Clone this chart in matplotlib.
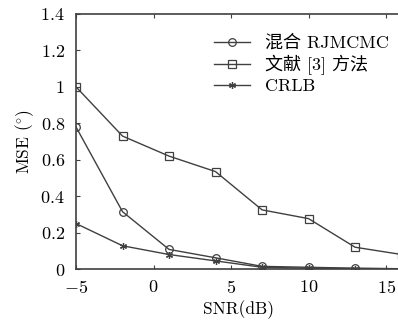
import matplotlib
matplotlib.use('Agg')
import matplotlib.pyplot as plt
from matplotlib.ticker import FuncFormatter

# 数据
snr = [-5, -2, 1, 4, 7, 10, 13, 16]
mse_rjmcmc = [0.78, 0.315, 0.108, 0.062, 0.015, 0.01, 0.005, 0.002]
mse_ref3 = [1.0, 0.73, 0.62, 0.535, 0.325, 0.277, 0.12, 0.08]
mse_crlb = [0.25, 0.128, 0.08, 0.045, 0.01, 0.005, 0.003, 0.002]

labels = ['混合 RJMCMC', '文献 [3] 方法', 'CRLB']
x_ticks = [-5, 0, 5, 10, 15]
y_ticks = [0, 0.2, 0.4, 0.6, 0.8, 1.0, 1.2, 1.4]

plt.rcParams['font.family'] = ['cmr10', 'Noto Sans CJK SC']
plt.rcParams['mathtext.fontset'] = 'cm'
plt.rcParams['axes.unicode_minus'] = False

fig = plt.figure(figsize=(3.98, 3.25), dpi=100)
ax = fig.add_axes([0.191, 0.172, 0.818, 0.785])

color = '#404040'
ax.plot(snr, mse_rjmcmc, '-o', color=color, lw=1.0, ms=5.5, mfc='none', mew=0.9, label=labels[0])
ax.plot(snr, mse_ref3, '-s', color=color, lw=1.0, ms=5.5, mfc='none', mew=0.9, label=labels[1])
ax.plot(snr, mse_crlb, '-', marker=(6, 2, 0), color=color, lw=1.0, ms=5, mew=0.9, label=labels[2])

ax.set_xlim(-5, 16)
ax.set_ylim(0, 1.4)
ax.set_xticks(x_ticks)
ax.set_yticks(y_ticks)
fmt = FuncFormatter(lambda v, p: f'${v:g}$')
ax.xaxis.set_major_formatter(fmt)
ax.yaxis.set_major_formatter(fmt)
ax.tick_params(direction='in', top=True, right=True, labelsize=13, length=3, color=color)
ax.tick_params(axis='y', pad=8)
ax.tick_params(axis='x', pad=7)
for s in ax.spines.values():
    s.set_color(color)
    s.set_linewidth(1.2)

ax.set_xlabel('SNR(dB)', fontsize=12.5, labelpad=3)
ax.set_ylabel(r'MSE $(^{\circ})$', fontsize=12.5, labelpad=3)

ax.legend(loc='upper left', bbox_to_anchor=(0.425, 0.92), frameon=False, fontsize=13,
          handlelength=2.0, handletextpad=0.8, labelspacing=0.2, borderaxespad=0, borderpad=0)

fig.savefig('out.png', dpi=100)
